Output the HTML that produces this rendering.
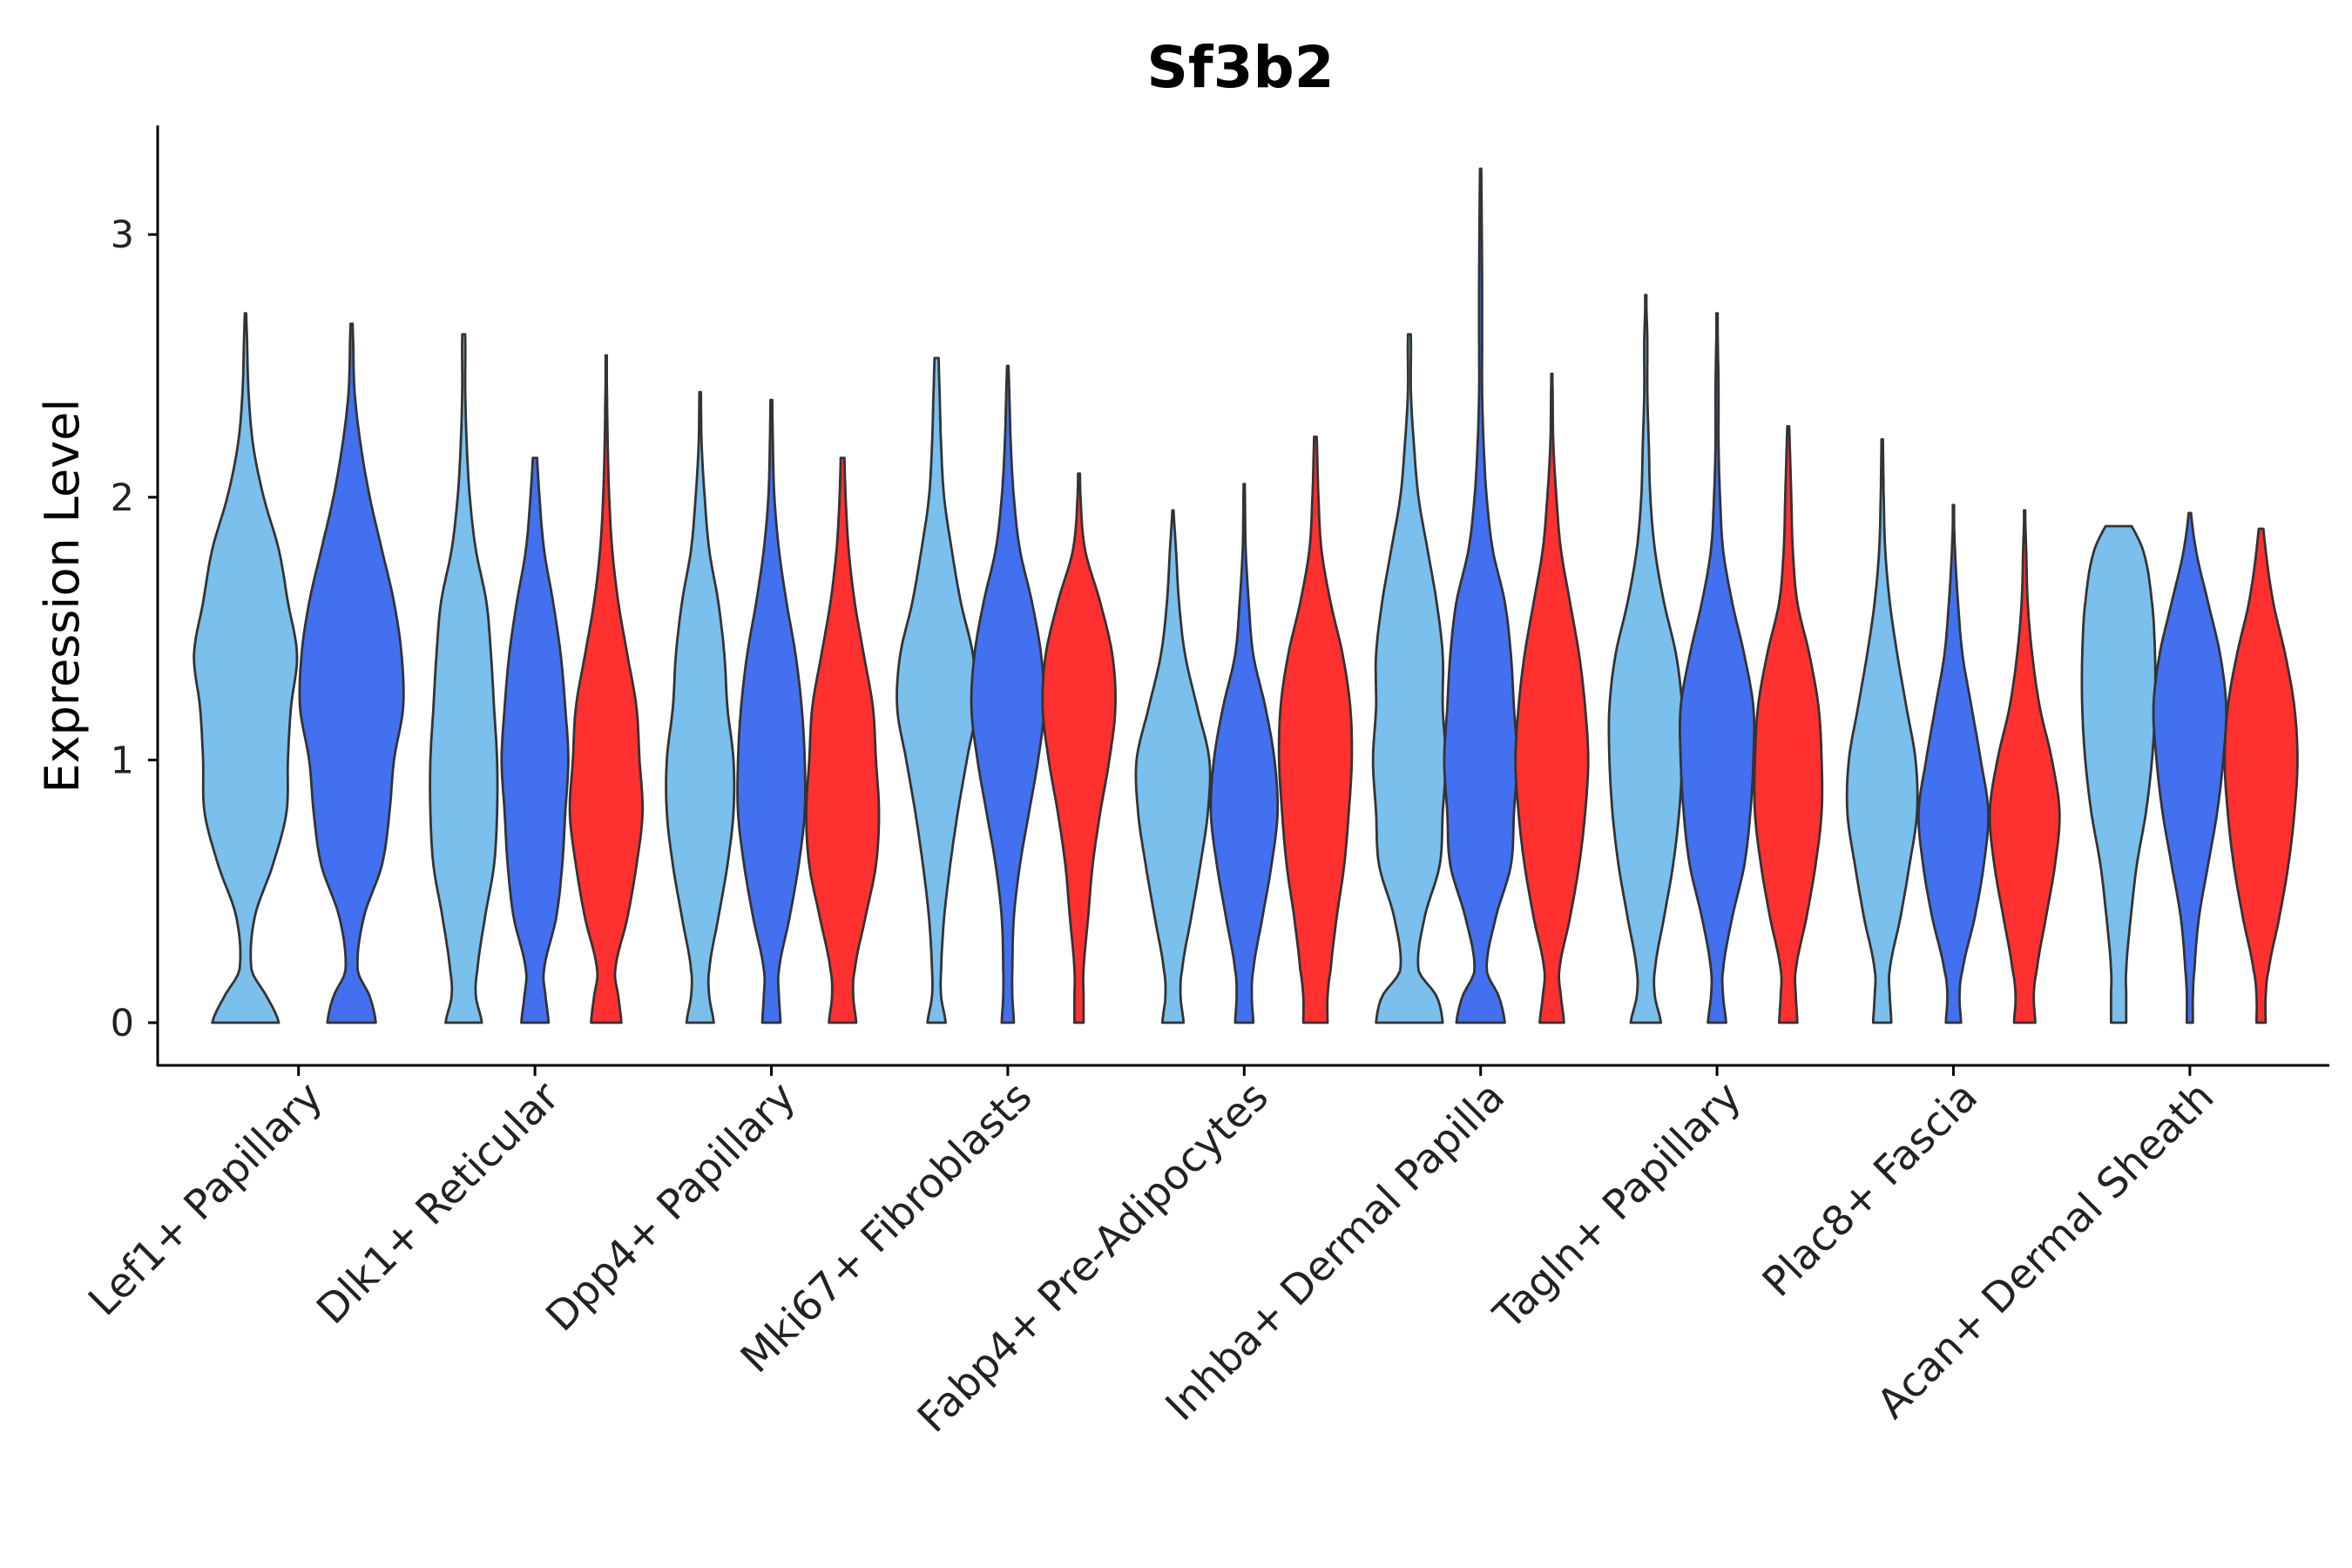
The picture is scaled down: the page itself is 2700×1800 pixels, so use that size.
<!DOCTYPE html>
<html><head><meta charset="utf-8"><style>
html,body{margin:0;padding:0;background:#fff;}
svg{display:block;font-family:"DejaVu Sans","Liberation Sans",sans-serif;}
</style></head><body>
<svg id="chart" width="2700" height="1800" viewBox="0 0 2700 1800" xmlns="http://www.w3.org/2000/svg">
<rect width="2700" height="1800" fill="#fff"/>
<text x="1424" y="100" font-size="66" font-weight="bold" text-anchor="middle" fill="#000">Sf3b2</text>
<g id="marks"></g>
<line x1="181" y1="144" x2="181" y2="1224" stroke="#000" stroke-width="3"/>
<line x1="180" y1="1223" x2="2674" y2="1223" stroke="#000" stroke-width="3"/>
<g id="yticks"></g>
<g id="xticks"></g>
<text transform="translate(90,684) rotate(-90)" font-size="54" text-anchor="middle" fill="#000">Expression Level</text>
</svg>
<script>
const categories=["Lef1+ Papillary","Dlk1+ Reticular","Dpp4+ Papillary","Mki67+ Fibroblasts","Fabp4+ Pre-Adipocytes","Inhba+ Dermal Papilla","Tagln+ Papillary","Plac8+ Fascia","Acan+ Dermal Sheath"];
const yTicks=[0,1,2,3];
const levels=[0,0.1,0.2,0.4,0.6,0.8,1.0,1.2,1.4,1.6,1.8,2.0,2.2,2.4,2.6,2.8,3.0,3.2,3.4];
const seriesColors=["#7BBFEC","#4370EE","#FF3030"];
const violinGroups=[[0,0],[0,1],[1,0],[1,1],[1,2],[2,0],[2,1],[2,2],[3,0],[3,1],[3,2],[4,0],[4,1],[4,2],[5,0],[5,1],[5,2],[6,0],[6,1],[6,2],[7,0],[7,1],[7,2],[8,0],[8,1],[8,2]];
const violinMax=[2.7,2.66,2.62,2.15,2.54,2.4,2.37,2.15,2.53,2.5,2.09,1.95,2.05,2.23,2.62,3.25,2.47,2.77,2.7,2.27,2.22,1.97,1.95,1.89,1.94,1.88];
const violinWidths=[
[22,14,4,6,18,27,28,30,34,28,22,12,5,2,1,0],
[16,12,4,8,20,25,28,34,33,28,20,12,6,2,1,0],
[12,8,9,14,20,22,22,20,18,15,8,4,2,1,1,0],
[9,7,6,14,18,20,22,20,17,12,6,3,1,0],
[10,8,6,14,20,24,22,20,14,8,4,2,1,0.5,0],
[9,6,6,12,18,22,22,18,16,12,6,3,1,0.5,0],
[6,5,5,12,18,22,22,20,16,10,5,2,1,0.5,0],
[9,7,8,15,22,24,22,20,14,8,4,2,1,0],
[6,3,3,5,9,14,20,26,24,16,10,5,3,2,1,0],
[4,3,3,4,8,14,20,24,22,16,8,4,2,1,0],
[3,3,3,6,9,14,20,24,22,14,4,1,0.5,0],
[7,5,6,12,18,23,24,16,8,4,2,0],
[6,5,6,12,18,22,20,14,6,3,1,0.5,0],
[8,8,10,14,19,22,24,23,18,10,4,2,1,0],
[22,18,6,10,20,22,24,22,22,18,12,6,3,1,1,0],
[16,12,4,10,20,22,24,22,20,16,8,4,2,1,1,1,0.8,0.5,0],
[8,6,5,12,18,22,24,22,18,12,6,3,1,0.5,0],
[10,6,6,12,18,22,24,24,20,12,6,3,2,1,1,0],
[6,4,4,10,18,22,24,24,18,10,4,2,1,1,0.5,0],
[6,5,5,12,18,22,22,20,14,6,3,2,1,0],
[6,5,5,12,18,23,22,16,10,5,2,1,0.5,0],
[5,4,6,14,20,23,18,12,6,3,1,0],
[7,6,8,14,20,23,18,10,5,2,1,0],
[5,5,5,8,12,18,22,24,24,22,16,0],
[2,2,3,6,12,18,22,24,20,12,4,0],
[3,3,5,12,18,22,24,22,16,8,3,0]
];
const S=1.7397;
const NS="http://www.w3.org/2000/svg";
function yScale(v){return 1174-v*301.6;}
function xCenter(ci){return (197+ci*156)*S;}
function nSeries(ci){return violinGroups.filter(g=>g[0]===ci).length;}
function xViolin(ci,si){const n=nSeries(ci);const step=n===2?70:47;return xCenter(ci)+(si-(n-1)/2)*step*S;}
function widthAt(w,v){
  let i=0;while(i<levels.length-2&&levels[i+1]<v)i++;
  const w0=w[Math.max(i-1,0)]??0,w1=w[i]??0,w2=w[i+1]??0,w3=w[Math.min(i+2,w.length-1)]??0;
  const t=(v-levels[i])/(levels[i+1]-levels[i]);
  const t2=t*t,t3=t2*t;
  const r=0.5*((2*w1)+(-w0+w2)*t+(2*w0-5*w1+4*w2-w3)*t2+(-w0+3*w1-3*w2+w3)*t3);
  return Math.max(r,0.4);
}
const marks=document.getElementById('marks');
violinGroups.forEach((g,k)=>{
  const ci=g[0],si=g[1],ymax=violinMax[k],w=violinWidths[k];
  const cx=xViolin(ci,si);
  const right=[],left=[];
  const steps=120;
  for(let j=0;j<=steps;j++){
    const v=ymax*j/steps;
    const hw=widthAt(w,v)*S;
    right.push([cx+hw,yScale(v)]);
    left.push([cx-hw,yScale(v)]);
  }
  let d="M"+left[0][0].toFixed(1)+","+left[0][1].toFixed(1);
  right.forEach(p=>d+="L"+p[0].toFixed(1)+","+p[1].toFixed(1));
  left.slice().reverse().forEach(p=>d+="L"+p[0].toFixed(1)+","+p[1].toFixed(1));
  d+="Z";
  const p=document.createElementNS(NS,'path');
  p.setAttribute('d',d);
  p.setAttribute('fill',seriesColors[si]);
  p.setAttribute('stroke','#333');
  p.setAttribute('stroke-width','2.8');
  p.setAttribute('stroke-linejoin','round');
  
  
  marks.appendChild(p);
});
const yt=document.getElementById('yticks');
yTicks.forEach(v=>{
  const y=yScale(v);
  const l=document.createElementNS(NS,'line');
  l.setAttribute('x1',170);l.setAttribute('x2',181);l.setAttribute('y1',y);l.setAttribute('y2',y);
  l.setAttribute('stroke','#000');l.setAttribute('stroke-width','3');
  
  
  yt.appendChild(l);
  const t=document.createElementNS(NS,'text');
  t.setAttribute('x',154);t.setAttribute('y',y+15);t.setAttribute('font-size','43');
  t.setAttribute('text-anchor','end');t.setAttribute('fill','#222');
  t.textContent=v;
  
  
  yt.appendChild(t);
});
const xt=document.getElementById('xticks');
categories.forEach((c,i)=>{
  const x=xCenter(i);
  const l=document.createElementNS(NS,'line');
  l.setAttribute('x1',x);l.setAttribute('x2',x);l.setAttribute('y1',1223);l.setAttribute('y2',1235);
  l.setAttribute('stroke','#000');l.setAttribute('stroke-width','3');
  
  
  xt.appendChild(l);
  const t=document.createElementNS(NS,'text');
  t.setAttribute('transform','translate('+(x+30)+',1262) rotate(-45)');
  t.setAttribute('font-size','47');t.setAttribute('text-anchor','end');t.setAttribute('fill','#222');
  t.textContent=c;
  
  
  xt.appendChild(t);
});
</script>
</body></html>
